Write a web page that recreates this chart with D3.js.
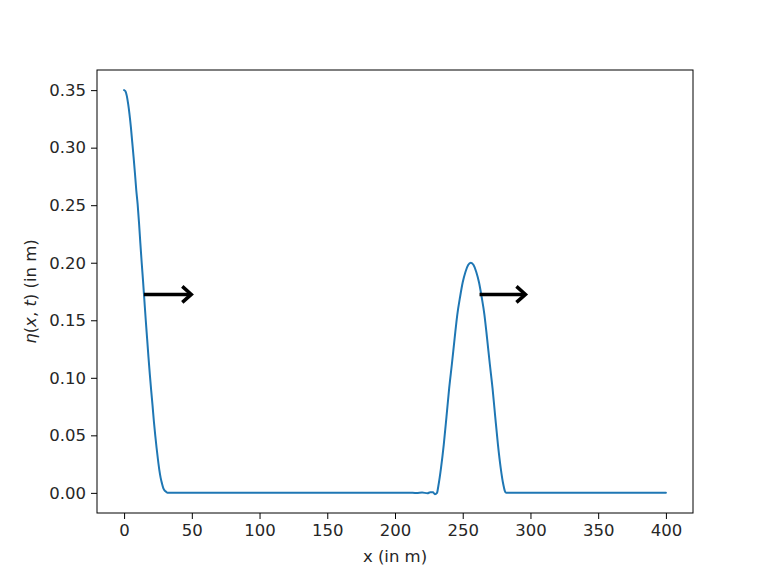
<!DOCTYPE html>
<html>
<head>
<meta charset="utf-8">
<script src="https://cdn.jsdelivr.net/npm/d3@7"></script>
<style>
  html, body { margin: 0; padding: 0; background: #fff; }
  svg text { font-family: "DejaVu Sans", sans-serif; fill: #262626; }
</style>
</head>
<body>
<svg id="chart" width="769" height="577"></svg>
<script>
// ---- data ----
const xs = [
  0, 1, 2, 3, 4, 5, 6, 7, 8, 9, 10, 11, 12, 13, 14, 15, 16, 17, 18, 19, 20,
  21, 22, 23, 24, 25, 26, 27, 28, 29, 30, 31, 32, 34, 40, 60, 100, 150, 200,
  210, 216, 220, 224, 226, 228, 229.5, 231,
  232, 234, 236, 238, 240, 242, 244, 246, 248, 250, 252, 254, 256,
  258, 260, 262, 264, 266, 268, 270, 272, 274, 276, 278, 280, 281, 282,
  290, 320, 360, 400
];
const eta = [
  0.350, 0.349, 0.345, 0.338, 0.329, 0.318, 0.305, 0.292, 0.278, 0.263, 0.251,
  0.235, 0.217, 0.200, 0.184, 0.167, 0.150, 0.134, 0.118, 0.103, 0.089,
  0.076, 0.062, 0.050, 0.039, 0.029, 0.020, 0.013, 0.008, 0.004, 0.002, 0.001, 0.000,
  0.000, 0.000, 0.000, 0.000, 0.000, 0.000,
  0.0002, -0.0002, 0.0003, -0.0003, 0.0005, 0.0006, -0.0012, 0.000,
  0.006, 0.022, 0.042, 0.066, 0.091, 0.112, 0.134, 0.155, 0.170, 0.183, 0.192, 0.198, 0.200,
  0.198, 0.192, 0.183, 0.170, 0.155, 0.134, 0.112, 0.091, 0.066, 0.042, 0.022, 0.007, 0.002, 0.000,
  0.000, 0.000, 0.000, 0.000
];
// arrows: [x start, x end, eta level]
const arrowStarts = [14.6, 262.4];
const arrowEnds = [49.6, 296.3];
const arrowLevels = [0.1725, 0.1725];

const xTicks = [0, 50, 100, 150, 200, 250, 300, 350, 400];
const yTicks = [0.00, 0.05, 0.10, 0.15, 0.20, 0.25, 0.30, 0.35];
const xLabel = "x (in m)";

// ---- layout ----
const W = 769, H = 577;
const m = { left: 97, right: 76, top: 70, bottom: 64 };
const pw = W - m.left - m.right, ph = H - m.top - m.bottom;

const svg = d3.select("#chart");
const g = svg.append("g").attr("transform", `translate(${m.left},${m.top})`);

const x = d3.scaleLinear().domain([-20, 420]).range([0, pw]);
const y = d3.scaleLinear().domain([-0.0175, 0.3675]).range([ph, 0]);

const fontSize = "16.5px";

// axes
const xAxis = d3.axisBottom(x).tickValues(xTicks).tickSize(6).tickPadding(5).tickFormat(d3.format("d"));
const yAxis = d3.axisLeft(y).tickValues(yTicks).tickSize(6).tickPadding(5).tickFormat(d3.format(".2f"));

const gx = g.append("g").attr("transform", `translate(0,${ph})`).call(xAxis);
const gy = g.append("g").call(yAxis);
[gx, gy].forEach(a => {
  a.select(".domain").remove();
  a.selectAll(".tick line").attr("stroke", "#000").attr("stroke-width", 1);
  a.selectAll(".tick text").attr("font-size", fontSize).attr("fill", "#262626")
    .attr("font-family", "DejaVu Sans, sans-serif");
});

// frame
g.append("rect").attr("x", 0).attr("y", 0).attr("width", pw).attr("height", ph)
  .attr("fill", "none").attr("stroke", "#000").attr("stroke-width", 1);

// curve
const pts = xs.map((d, i) => [d, eta[i]]);
const line = d3.line().x(d => x(d[0])).y(d => y(d[1])).curve(d3.curveMonotoneX);
g.append("path").datum(pts).attr("d", line)
  .attr("fill", "none").attr("stroke", "#1f77b4").attr("stroke-width", 2)
  .attr("stroke-linejoin", "round").attr("stroke-linecap", "round");

// arrows
arrowStarts.forEach((s, i) => {
  const x0 = x(s), x1 = x(arrowEnds[i]), yy = y(arrowLevels[i]);
  g.append("line").attr("x1", x0).attr("x2", x1 - 1).attr("y1", yy).attr("y2", yy)
    .attr("stroke", "#000").attr("stroke-width", 3.5);
  g.append("path")
    .attr("d", `M${x1 - 9},${yy - 8} L${x1},${yy} L${x1 - 9},${yy + 8}`)
    .attr("fill", "none").attr("stroke", "#000").attr("stroke-width", 3.5)
    .attr("stroke-linejoin", "miter").attr("stroke-linecap", "butt");
});

// axis labels
svg.append("text").attr("x", m.left + pw / 2).attr("y", 562)
  .attr("text-anchor", "middle").attr("font-size", fontSize).text(xLabel);

const yl = svg.append("text")
  .attr("transform", `translate(36,${m.top + ph / 2}) rotate(-90)`)
  .attr("text-anchor", "middle").attr("font-size", fontSize);
yl.append("tspan").attr("font-style", "italic").text("η");
yl.append("tspan").text("(");
yl.append("tspan").attr("font-style", "italic").text("x");
yl.append("tspan").text(", ");
yl.append("tspan").attr("font-style", "italic").text("t");
yl.append("tspan").text(") (in m)");
</script>
</body>
</html>
